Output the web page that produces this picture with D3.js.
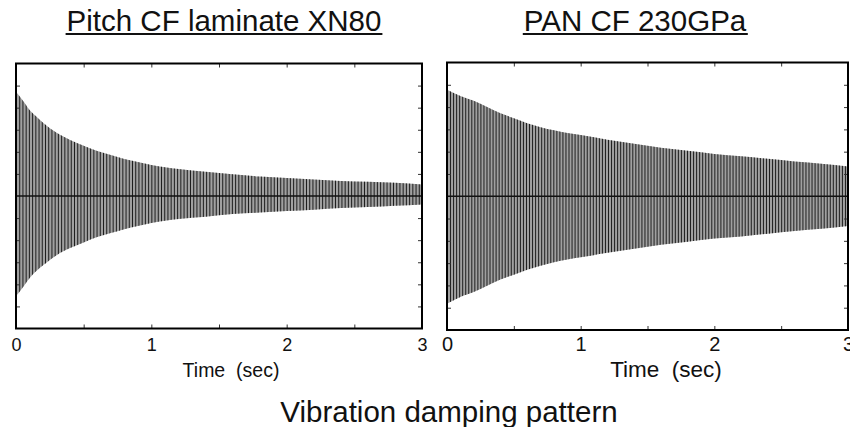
<!DOCTYPE html>
<html>
<head>
<meta charset="utf-8">
<script src="https://cdn.jsdelivr.net/npm/d3@7"></script>
<style>
  html,body{margin:0;padding:0;background:#fff;}
  svg{display:block;font-family:"Liberation Sans",Arial,sans-serif;}
</style>
</head>
<body>
<svg id="chart" width="850" height="427"></svg>
<script>
(() => {
  "use strict";

  // envelope of the decay (amplitude units, axis is -3..3)
  const xnTimes = [0, 0.05, 0.1, 0.15, 0.2, 0.3, 0.4, 0.5, 0.6, 0.7, 0.8, 0.9, 1.0, 1.2, 1.4, 1.6, 1.8, 2.0, 2.2, 2.4, 2.6, 2.8, 3.0];
  const xnUpper = [2.36, 2.16, 1.95, 1.80, 1.66, 1.43, 1.27, 1.14, 1.02, 0.93, 0.84, 0.77, 0.70, 0.61, 0.55, 0.49, 0.44, 0.41, 0.375, 0.34, 0.32, 0.30, 0.26];
  const xnLower = [2.27, 2.07, 1.86, 1.70, 1.57, 1.34, 1.18, 1.05, 0.93, 0.84, 0.75, 0.68, 0.61, 0.52, 0.47, 0.41, 0.375, 0.34, 0.31, 0.27, 0.25, 0.22, 0.19];
  const xnFreq = 42; // Hz, cycles counted on the trace

  const panTimes = [0, 0.1, 0.2, 0.3, 0.4, 0.5, 0.6, 0.7, 0.8, 0.9, 1.0, 1.2, 1.4, 1.6, 1.8, 2.0, 2.2, 2.4, 2.6, 2.8, 3.0];
  const panUpper = [2.39, 2.25, 2.14, 2.00, 1.86, 1.75, 1.64, 1.55, 1.48, 1.42, 1.375, 1.27, 1.18, 1.09, 1.02, 0.95, 0.90, 0.84, 0.78, 0.73, 0.67];
  const panLower = [2.41, 2.26, 2.15, 2.01, 1.87, 1.76, 1.65, 1.56, 1.48, 1.42, 1.37, 1.27, 1.18, 1.09, 1.02, 0.95, 0.90, 0.84, 0.78, 0.73, 0.67];
  const panFreq = 44;

  const timeTicks = [0, 0.5, 1, 1.5, 2, 2.5, 3];
  const ampTicks = [-2.5, -2, -1.5, -1, -0.5, 0.5, 1, 1.5, 2, 2.5];
  const panelTitles = ["Pitch CF laminate XN80", "PAN CF 230GPa"];
  const axisLabel = "Time  (sec)";
  const footTitle = "Vibration damping pattern";

  const svg = d3.select("#chart");

  const panels = [
    { title: panelTitles[0], times: xnTimes, upper: xnUpper, lower: xnLower, freq: xnFreq,
      box: { x0: 16, x1: 422, y0: 63.5, y1: 328.5 }, titleX: 224, labelX: 231, labelSize: 19.5, tickSize: 18, pad: 10 },
    { title: panelTitles[1], times: panTimes, upper: panUpper, lower: panLower, freq: panFreq,
      box: { x0: 447, x1: 848, y0: 62.5, y1: 330 }, titleX: 635, labelX: 666, labelSize: 22.5, tickSize: 20, pad: 7 }
  ];

  function styleAxis(g){
    g.select(".domain").remove();
    g.selectAll(".tick line").attr("stroke", "#333").attr("stroke-width", 1);
    g.attr("font-family", null);
  }

  function drawPanel(p, i){
    const x = d3.scaleLinear().domain([0, 3]).range([p.box.x0, p.box.x1]);
    const y = d3.scaleLinear().domain([-3, 3]).range([p.box.y1, p.box.y0]);
    const g = svg.append("g");

    const rows = p.times.map((t, k) => ({ t, up: p.upper[k], lo: p.lower[k] }));
    const area = d3.area()
      .x(d => x(d.t))
      .y0(d => y(-d.lo))
      .y1(d => y(d.up))
      .curve(d3.curveMonotoneX);

    const clipId = "env" + i;
    svg.append("clipPath").attr("id", clipId).append("path").attr("d", area(rows));

    g.append("path").attr("d", area(rows)).attr("fill", "#a0a0a0");

    // one dark stroke per cycle, cut to the envelope
    g.append("g").attr("clip-path", `url(#${clipId})`)
      .selectAll("line").data(d3.range(0, 3, 1 / p.freq)).join("line")
      .attr("x1", d => x(d) + 0.5).attr("x2", d => x(d) + 0.5)
      .attr("y1", y(3)).attr("y2", y(-3))
      .attr("stroke", "#1e1e1e").attr("stroke-width", 1);

    g.append("line")
      .attr("x1", x(0)).attr("x2", x(3)).attr("y1", y(0)).attr("y2", y(0))
      .attr("stroke", "#111").attr("stroke-width", 1.3);

    const bottom = g.append("g").attr("transform", `translate(0,${p.box.y1})`)
      .call(d3.axisBottom(x).tickValues(timeTicks).tickSize(-4).tickPadding(p.pad)
        .tickFormat(d => Number.isInteger(d) ? d : ""))
      .call(styleAxis);
    bottom.selectAll("text")
      .attr("fill", "#111")
      .style("font-size", p.tickSize + "px");

    g.append("g").attr("transform", `translate(0,${p.box.y0})`)
      .call(d3.axisTop(x).tickValues(timeTicks).tickSize(-4).tickFormat(""))
      .call(styleAxis);
    g.append("g").attr("transform", `translate(${p.box.x0},0)`)
      .call(d3.axisLeft(y).tickValues(ampTicks).tickSize(-4).tickFormat(""))
      .call(styleAxis);
    g.append("g").attr("transform", `translate(${p.box.x1},0)`)
      .call(d3.axisRight(y).tickValues(ampTicks).tickSize(-4).tickFormat(""))
      .call(styleAxis);

    g.append("rect")
      .attr("x", p.box.x0).attr("y", p.box.y0)
      .attr("width", p.box.x1 - p.box.x0).attr("height", p.box.y1 - p.box.y0)
      .attr("fill", "none").attr("stroke", "#000").attr("stroke-width", 2);

    g.append("text")
      .attr("x", p.labelX).attr("y", 377)
      .attr("text-anchor", "middle").style("font-size", p.labelSize + "px")
      .attr("fill", "#111").style("white-space", "pre")
      .text(axisLabel);

    const t = g.append("text")
      .attr("x", p.titleX).attr("y", 31)
      .attr("text-anchor", "middle").style("font-size", "29.5px")
      .attr("fill", "#111")
      .text(p.title);
    const bb = t.node().getBBox();
    g.append("line")
      .attr("x1", bb.x - 1).attr("x2", bb.x + bb.width + 1)
      .attr("y1", 34).attr("y2", 34)
      .attr("stroke", "#111").attr("stroke-width", 2);
  }

  panels.forEach(drawPanel);

  svg.append("text")
    .attr("x", 449).attr("y", 422)
    .attr("text-anchor", "middle").style("font-size", "29.5px")
    .attr("fill", "#111")
    .text(footTitle);
})();
</script>
</body>
</html>
